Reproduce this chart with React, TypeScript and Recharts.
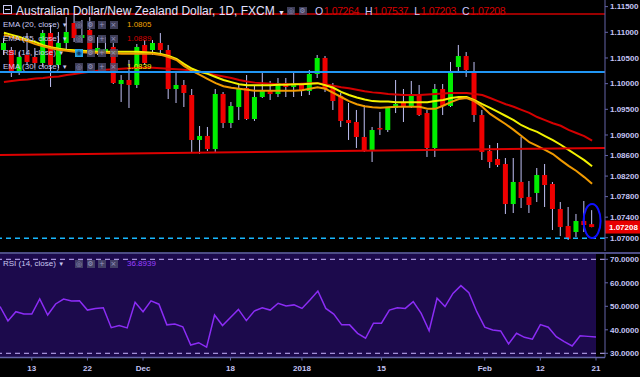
import React from 'react';
import { ComposedChart, Bar, Line, XAxis, YAxis, ReferenceLine, ReferenceDot, ReferenceArea } from 'recharts';

// ---------- DATA ----------
const dates = [
  '2017-11-07','2017-11-08','2017-11-09','2017-11-10','2017-11-13','2017-11-14','2017-11-15','2017-11-16','2017-11-17','2017-11-20',
  '2017-11-21','2017-11-22','2017-11-23','2017-11-24','2017-11-27','2017-11-28','2017-11-29','2017-11-30','2017-12-01','2017-12-04',
  '2017-12-05','2017-12-06','2017-12-07','2017-12-08','2017-12-11','2017-12-12','2017-12-13','2017-12-14','2017-12-15','2017-12-18',
  '2017-12-19','2017-12-20','2017-12-21','2017-12-22','2017-12-26','2017-12-27','2017-12-28','2017-12-29','2018-01-01','2018-01-02',
  '2018-01-03','2018-01-04','2018-01-05','2018-01-08','2018-01-09','2018-01-10','2018-01-11','2018-01-12','2018-01-15','2018-01-16',
  '2018-01-17','2018-01-18','2018-01-19','2018-01-22','2018-01-23','2018-01-24','2018-01-25','2018-01-26','2018-01-29','2018-01-30',
  '2018-01-31','2018-02-01','2018-02-02','2018-02-05','2018-02-06','2018-02-07','2018-02-08','2018-02-09','2018-02-12','2018-02-13',
  '2018-02-14','2018-02-15','2018-02-16','2018-02-19','2018-02-20','2018-02-21',
];

const opens = [
  1.10655,1.10655,1.10227,1.10558,1.10519,1.10402,1.10986,1.10363,1.10792,1.11181,
  1.10889,1.11045,1.10616,1.10636,1.10714,1.09993,1.10071,1.09974,1.10753,1.10655,
  1.10792,1.10655,1.09896,1.09974,1.09779,1.08903,1.08981,1.08727,1.09798,1.09234,
  1.09545,1.09915,1.09312,1.09740,1.09876,1.09798,1.10013,1.09935,1.09993,1.09857,
  1.10188,1.10500,1.09915,1.09759,1.09292,1.09253,1.08961,1.08688,1.09136,1.09097,
  1.09526,1.09623,1.09545,1.09798,1.09428,1.08747,1.09896,1.09565,1.10324,1.10538,
  1.10227,1.09389,1.08688,1.08533,1.08435,1.07656,1.08085,1.07793,1.07871,1.08221,
  1.08046,1.07559,1.07228,1.07111,1.07325,1.07264,
];
const highs = [
  1.10889,1.10714,1.10616,1.10986,1.10694,1.11045,1.11142,1.11006,1.11298,1.11337,
  1.11240,1.11298,1.10908,1.10908,1.10792,1.10168,1.10461,1.10772,1.10850,1.10850,
  1.10986,1.10753,1.10207,1.10071,1.09896,1.09175,1.09156,1.09896,1.09837,1.09643,
  1.09993,1.10168,1.09974,1.10207,1.10052,1.10110,1.10110,1.10207,1.10013,1.10266,
  1.10558,1.10538,1.10013,1.09818,1.09623,1.09487,1.09584,1.09156,1.09448,1.09545,
  1.10071,1.09896,1.10052,1.09974,1.09487,1.09993,1.09993,1.10422,1.10753,1.10616,
  1.10422,1.09487,1.08805,1.08844,1.08552,1.08552,1.08961,1.08104,1.08357,1.08435,
  1.08085,1.07695,1.07598,1.07462,1.07715,1.07537,
];
const lows = [
  1.10558,1.10130,1.10168,1.10363,1.10305,1.10324,1.09935,1.10305,1.10655,1.10811,
  1.10792,1.10558,1.10558,1.10597,1.09993,1.09643,1.09526,1.09915,1.10363,1.10558,
  1.10597,1.09701,1.09623,1.09545,1.08649,1.08630,1.08688,1.08649,1.09136,1.09136,
  1.09292,1.09292,1.09273,1.09721,1.09682,1.09740,1.09740,1.09740,1.09759,1.09779,
  1.10110,1.09837,1.09487,1.09156,1.08903,1.08747,1.08669,1.08474,1.09000,1.09058,
  1.09428,1.09253,1.09526,1.09370,1.08572,1.08572,1.09389,1.09545,1.10227,1.10130,
  1.09253,1.08513,1.08357,1.08377,1.07462,1.07481,1.07578,1.07481,1.07695,1.07598,
  1.07150,1.07033,1.06955,1.07014,1.07111,1.07203,
];
const closes = [
  1.10792,1.10227,1.10519,1.10422,1.10402,1.10986,1.10363,1.10792,1.11006,1.10889,
  1.10947,1.10655,1.10694,1.10675,1.10013,1.10071,1.09974,1.10714,1.10402,1.10792,
  1.10655,1.09896,1.09974,1.09818,1.08903,1.08981,1.08727,1.09798,1.09234,1.09565,
  1.09915,1.09312,1.09740,1.09876,1.09798,1.10013,1.09935,1.09993,1.09857,1.10188,
  1.10500,1.09896,1.09662,1.09273,1.09234,1.08961,1.08688,1.09097,1.09117,1.09526,
  1.09604,1.09545,1.09779,1.09389,1.08747,1.09896,1.09565,1.10207,1.10538,1.10266,
  1.09389,1.08669,1.08474,1.08416,1.07656,1.08085,1.07773,1.07637,1.08221,1.08026,
  1.07559,1.07208,1.06975,1.07325,1.07247,1.07208,
];

const ema20 = [
  1.1095,1.1091,1.1087,1.1083,1.1077,1.1073,1.1069,1.1066,1.1064,1.1062,
  1.1061,1.1060,1.1060,1.1060,1.1059,1.1058,1.1058,1.1058,1.1058,1.1058,
  1.1056,1.1052,1.1046,1.1034,1.1025,1.1017,1.1009,1.1001,1.0995,1.0992,
  1.0990,1.0988,1.0986,1.0986,1.0986,1.0986,1.0986,1.0986,1.0987,1.0990,
  1.0993,1.0990,1.0982,1.0974,1.0966,1.0960,1.0956,1.0954,1.0953,1.0954,
  1.0955,1.0955,1.0955,1.0955,1.0951,1.0951,1.0957,1.0964,1.0970,1.0972,
  1.0966,1.0955,1.0941,1.0931,1.0921,1.0910,1.0898,1.0886,1.0879,1.0871,
  1.0863,1.0851,1.0840,1.0830,1.0818,1.0805,
];
const ema30 = [
  1.1099,1.1095,1.1091,1.1085,1.1081,1.1075,1.1071,1.1068,1.1066,1.1065,
  1.1064,1.1063,1.1062,1.1062,1.1062,1.1062,1.1062,1.1062,1.1061,1.1060,
  1.1058,1.1054,1.1048,1.1038,1.1029,1.1023,1.1019,1.1013,1.1007,1.1003,
  1.0999,1.0997,1.0997,1.0997,1.0997,1.0998,1.0998,1.0999,1.0999,1.1000,
  1.1001,1.0997,1.0992,1.0984,1.0978,1.0973,1.0969,1.0966,1.0965,1.0965,
  1.0964,1.0964,1.0964,1.0964,1.0964,1.0966,1.0968,1.0972,1.0974,1.0974,
  1.0968,1.0960,1.0953,1.0945,1.0937,1.0929,1.0919,1.0912,1.0906,1.0898,
  1.0890,1.0881,1.0871,1.0861,1.0851,1.0839,
];
const ema55 = [
  1.1003,1.1005,1.1007,1.1008,1.1010,1.1011,1.1013,1.1014,1.1017,1.1019,
  1.1021,1.1023,1.1025,1.1027,1.1028,1.1029,1.1030,1.1031,1.1031,1.1031,
  1.1030,1.1029,1.1028,1.1027,1.1025,1.1023,1.1020,1.1017,1.1014,1.1011,
  1.1007,1.1004,1.1002,1.1001,1.1000,1.0999,1.0999,1.0999,1.1000,1.1001,
  1.1001,1.0999,1.0996,1.0993,1.0991,1.0988,1.0985,1.0983,1.0982,1.0980,
  1.0979,1.0978,1.0978,1.0978,1.0979,1.0980,1.0981,1.0982,1.0982,1.0982,
  1.0980,1.0978,1.0972,1.0966,1.0960,1.0955,1.0949,1.0943,1.0935,1.0929,
  1.0923,1.0918,1.0910,1.0904,1.0898,1.0889,
];
const rsi14 = [
  49.9,43.8,47.7,46.7,46.7,53.1,46.3,51.0,53.1,52.3,
  52.4,48.4,49.1,49.4,40.9,41.8,40.8,51.7,47.7,52.3,
  50.9,42.1,42.5,41.3,33.5,34.5,32.6,46.3,41.8,45.2,
  48.7,43.9,48.0,49.4,48.4,51.3,50.1,50.6,49.1,52.7,
  56.5,49.1,46.7,42.1,42.1,38.5,36.4,42.8,42.8,48.4,
  49.4,49.1,52.0,47.0,39.6,53.4,49.9,55.5,58.8,55.8,
  47.7,41.1,39.9,39.5,34.0,38.5,36.8,36.0,42.2,41.1,
  37.1,35.0,33.1,37.5,37.2,36.8939,
];

const tickLabels: Record<string, string> = {
  '2017-11-13': '13', '2017-11-22': '22', '2017-12-01': 'Dec', '2017-12-18': '18',
  '2018-01-01': '2018', '2018-01-15': '15', '2018-02-01': 'Feb', '2018-02-12': '12', '2018-02-21': '21',
};
const priceTicks = [1.115, 1.11, 1.105, 1.1, 1.095, 1.09, 1.086, 1.082, 1.078, 1.074, 1.07];
const rsiTicks = [70, 60, 50, 40, 30];

const PRICE_DOMAIN = [1.06741, 1.11629];
const RSI_DOMAIN = [28.21, 72.26];

const hLineTopRed = 1.11356;
const hLineBlue = 1.10227;
const supportDashed = 1.0699;
const trendStart = 1.0861;
const trendEnd = 1.08745;
const annotationPrice = 1.07325;

const legendValues = { ema20: '1.0805', ema55: '1.0889', ema30: '1.0839', rsi: '36.8939' };
const ohlc = { O: '1.07264', H: '1.07537', L: '1.07203', C: '1.07208' };

const rows = dates.map((d, i) => ({
  date: d,
  open: opens[i], high: highs[i], low: lows[i], close: closes[i],
  range: [lows[i], highs[i]],
  ema20: ema20[i], ema30: ema30[i], ema55: ema55[i],
  rsi: rsi14[i],
}));

// ---------- STYLE ----------
const FONT = '"Liberation Sans", Arial, sans-serif';
const AXIS_TEXT = '#c4c4f4';
const AXIS_LINE = '#6464a8';
const UP = '#00ee00';
const DOWN = '#ee0000';
const WICK = '#c0c0f4';

const Candle = (props: any) => {
  const { x, y, width, height, payload } = props;
  if (!payload || payload.high == null) return null;
  const top = Math.min(y, y + height);
  const h = Math.abs(height);
  const ratio = h / (payload.high - payload.low || 1);
  const yOf = (v: number) => top + (payload.high - v) * ratio;
  const up = payload.close >= payload.open;
  const bTop = yOf(Math.max(payload.open, payload.close));
  const bBot = yOf(Math.min(payload.open, payload.close));
  const cx = x + width / 2;
  return (
    <g>
      <line x1={cx} x2={cx} y1={top} y2={top + h} stroke={WICK} strokeWidth={1} />
      <rect x={x} y={bTop} width={width} height={Math.max(1.5, bBot - bTop)} fill={up ? UP : DOWN} />
    </g>
  );
};

const TrendShape = (props: any) => {
  const { x1, y1, x2, y2 } = props;
  if (x1 == null) return null;
  const len = x2 - x1;
  const a = -0.5 / 75, b = 1 + 1.65 / 75;
  return (
    <line x1={x1 + len * a} y1={y1 + (y2 - y1) * a} x2={x1 + len * b} y2={y1 + (y2 - y1) * b}
      stroke="#dd0000" strokeWidth={2} />
  );
};

const PriceTag = (props: any) => {
  const vb = props.viewBox || {};
  const x = (vb.x || 0) + (vb.width || 0);
  const y = vb.y || 0;
  return (
    <g>
      <rect x={x} y={y - 6.5} width={36} height={13} fill="#e80000" />
      <text x={x + 4} y={y + 3} fill="#ffffff" fontSize={8} fontWeight="bold" fontFamily={FONT}>{closes[closes.length - 1].toFixed(5)}</text>
    </g>
  );
};

const Ellipse = (props: any) => (
  <ellipse cx={props.cx} cy={props.cy} rx={8.5} ry={17} fill="none" stroke="#1010ff" strokeWidth={2} />
);

const XTick = (props: any) => {
  const { x, y, payload } = props;
  const lbl = tickLabels[payload.value];
  if (!lbl) return null;
  return (
    <g>
      <line x1={x} x2={x} y1={y} y2={y + 3} stroke={AXIS_LINE} />
      <text x={x} y={y + 13.5} textAnchor="middle" fill={AXIS_TEXT} fontSize={8} fontWeight="bold" fontFamily={FONT}>{lbl}</text>
    </g>
  );
};

const Btn = ({ g, active }: { g: string; active?: boolean }) => (
  <span style={{
    display: 'inline-block', width: 8, height: 8.5, marginRight: 3.5,
    background: active ? '#2aa6e6' : 'rgba(78,78,110,0.8)', color: active ? '#0b3a66' : '#9898c0',
    fontSize: 7, lineHeight: '8.5px', textAlign: 'center', verticalAlign: 'top', fontFamily: 'DejaVu Sans',
  }}>{g}</span>
);

const LegendRow = ({ top, name, value, color, activeFirst }: any) => (
  <div style={{ position: 'absolute', left: 0, top, height: 10, width: 200 }}>
    <span style={{ position: 'absolute', left: 3, top: 0, fontSize: 8, color: '#c8c8f0', fontFamily: FONT, lineHeight: '10px', whiteSpace: 'nowrap' }}>
      {name} <span style={{ fontSize: 6 }}>▼</span>
    </span>
    <span style={{ position: 'absolute', left: 75, top: 0.5 }}>
      <Btn g={activeFirst ? '◉' : '◎'} active={activeFirst} /><Btn g="⚙" /><Btn g="+" /><Btn g="×" />
    </span>
    {value && (
      <span style={{ position: 'absolute', left: 127, top: 0, fontSize: 8, color, fontFamily: FONT, lineHeight: '10px' }}>{value}</span>
    )}
  </div>
);

export default function App() {
  return (
    <div style={{ position: 'fixed', left: 0, top: 0, width: 640, height: 377, background: '#000', overflow: 'hidden' }}>
      {/* Price pane */}
      <div style={{ position: 'absolute', left: 0, top: 0 }}>
        <ComposedChart width={640} height={252} data={rows} margin={{ top: 0, right: 0, left: 0, bottom: 1 }}>
          <XAxis dataKey="date" hide padding={{ left: 0, right: 9 }} />
          <YAxis orientation="right" width={35} domain={PRICE_DOMAIN} ticks={priceTicks} allowDataOverflow
            tickFormatter={(v: number) => v.toFixed(5)}
            tick={{ fill: AXIS_TEXT, fontSize: 8, fontWeight: 'bold', fontFamily: FONT }}
            tickLine={{ stroke: AXIS_LINE }} tickSize={3} tickMargin={2} axisLine={{ stroke: AXIS_LINE }} />
          <Bar dataKey="range" barSize={5} shape={<Candle />} activeBar={false} isAnimationActive={false} />
          <Line dataKey="ema55" stroke="#d40000" strokeWidth={2} dot={false} activeDot={false} isAnimationActive={false} />
          <Line dataKey="ema30" stroke="#f2f200" strokeWidth={2} dot={false} activeDot={false} isAnimationActive={false} />
          <Line dataKey="ema20" stroke="#f09a00" strokeWidth={2} dot={false} activeDot={false} isAnimationActive={false} />
          <ReferenceLine y={hLineTopRed} stroke="#cc0000" strokeWidth={1.5} />
          <ReferenceLine y={hLineBlue} stroke="#2196f3" strokeWidth={2} />
          <ReferenceLine y={supportDashed} stroke="#18b8ff" strokeWidth={1.5} strokeDasharray="5 4" />
          <ReferenceLine segment={[{ x: dates[0], y: trendStart }, { x: dates[dates.length - 1], y: trendEnd }]}
            shape={<TrendShape />} ifOverflow="visible" />
          <ReferenceDot x={dates[dates.length - 1]} y={annotationPrice} shape={<Ellipse />} ifOverflow="visible" />
          <ReferenceLine y={closes[closes.length - 1]} stroke="none" label={<PriceTag />} />
        </ComposedChart>
      </div>

      {/* separator */}
      <div style={{ position: 'absolute', left: 0, top: 251.5, width: 640, height: 2.5, background: '#4c4c84' }} />

      {/* RSI pane */}
      <div style={{ position: 'absolute', left: 0, top: 254 }}>
        <ComposedChart width={640} height={123} data={rows} margin={{ top: 0, right: 0, left: 0, bottom: 0 }}>
          <ReferenceArea y1={RSI_DOMAIN[0]} y2={RSI_DOMAIN[1]} fill="#1c0a4c" fillOpacity={1} stroke="none" ifOverflow="hidden" />
          <XAxis dataKey="date" interval={0} height={19.5} padding={{ left: 0, right: 9 }}
            tickLine={false} tickSize={0} tickMargin={0} tick={<XTick />} axisLine={{ stroke: AXIS_LINE, strokeWidth: 1.5 }} />
          <YAxis orientation="right" width={35} domain={RSI_DOMAIN} ticks={rsiTicks} allowDataOverflow
            tickFormatter={(v: number) => v.toFixed(4)}
            tick={{ fill: AXIS_TEXT, fontSize: 8, fontWeight: 'bold', fontFamily: FONT }}
            tickLine={{ stroke: AXIS_LINE }} tickSize={3} tickMargin={2} axisLine={{ stroke: AXIS_LINE }} />
          <ReferenceLine y={70} stroke="#c8b4ff" strokeDasharray="5 4" />
          <ReferenceLine y={30} stroke="#c8b4ff" strokeDasharray="5 4" />
          <Line dataKey="rsi" stroke="#8b2cf5" strokeWidth={1.5} dot={false} activeDot={false} isAnimationActive={false} />
        </ComposedChart>
      </div>

      {/* Header */}
      <div style={{ position: 'absolute', left: 3, top: 5, width: 9, height: 9, border: '1px solid #c8c8f0', boxSizing: 'border-box' }}>
        <div style={{ position: 'absolute', left: 1, top: 3, width: 5, height: 1, background: '#c8c8f0' }} />
      </div>
      <div style={{ position: 'absolute', left: 16, top: 3, fontSize: 12, color: '#e2e2ff', fontFamily: FONT, lineHeight: '16px', whiteSpace: 'nowrap' }}>
        Australian Dollar/New Zealand Dollar, 1D, FXCM <span style={{ fontSize: 7 }}>▼</span>
      </div>
      <div style={{ position: 'absolute', left: 287, top: 6.5 }}>
        <Btn g="◎" /><Btn g="⚙" />
      </div>
      <div style={{ position: 'absolute', left: 315, top: 4, fontSize: 10.5, fontFamily: FONT, lineHeight: '15px', whiteSpace: 'nowrap', letterSpacing: -0.4 }}>
        {(['O', 'H', 'L', 'C'] as const).map((k) => (
          <span key={k} style={{ marginRight: 6 }}>
            <span style={{ color: '#c8c8ff', marginRight: 1 }}>{k}</span>
            <span style={{ color: '#d40000' }}>{ohlc[k]}</span>
          </span>
        ))}
      </div>
      <LegendRow top={20} name="EMA (20, close)" value={legendValues.ema20} color="#f0a000" />
      <LegendRow top={34} name="EMA (55, close)" value={legendValues.ema55} color="#d40000" />
      <LegendRow top={48} name="RSI (14, close)" activeFirst />
      <LegendRow top={62} name="EMA (30, close)" value={legendValues.ema30} color="#f0f000" />

      <LegendRow top={259} name="RSI (14, close)" value={legendValues.rsi} color="#9a40ff" />
    </div>
  );
}
